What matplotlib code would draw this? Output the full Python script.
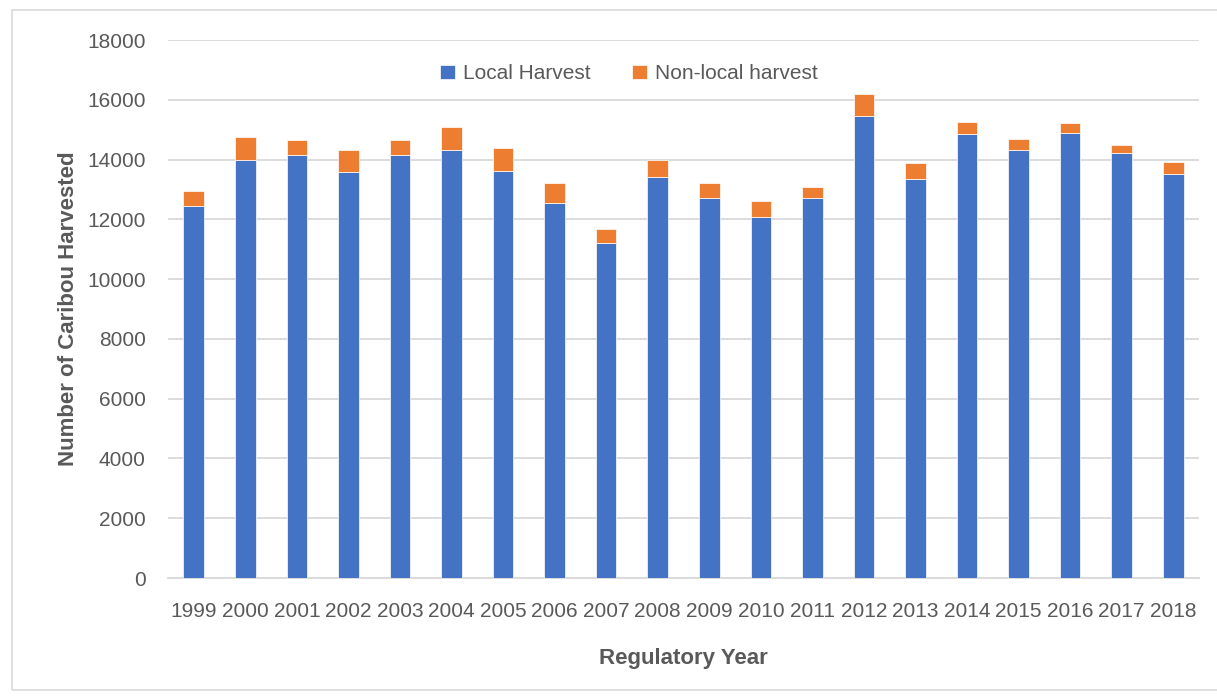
import numpy as np
import matplotlib.pyplot as plt
from matplotlib.patches import Rectangle

years = [str(y) for y in range(1999, 2019)]
local = [12430, 13970, 14140, 13570, 14140, 14310, 13610, 12530, 11210, 13430,
         12700, 12080, 12700, 15470, 13350, 14850, 14310, 14900, 14230, 13520]
total = [12950, 14740, 14650, 14310, 14650, 15090, 14400, 13210, 11690, 13990,
         13210, 12600, 13080, 16210, 13870, 15240, 14700, 15210, 14480, 13920]
nonlocal_ = [t - l for t, l in zip(total, local)]

plt.rcParams['font.family'] = ['Liberation Sans', 'DejaVu Sans']
grey = '#595959'

fig = plt.figure(figsize=(12.17, 6.98), dpi=100)
ax = fig.add_axes([168/1217, 1 - 578/698, (1199 - 168)/1217, (578 - 40)/698])

# chart border
fig.patches.append(Rectangle((12/1217, 1 - 690/698), 1, 680/698, transform=fig.transFigure,
                             fill=False, edgecolor='#D9D9D9', linewidth=1.2))

x = np.arange(len(years))
ax.bar(x, local, width=0.4, color='#4472C4', edgecolor='white', linewidth=0.5,
       label='Local Harvest', zorder=3)
ax.bar(x, nonlocal_, bottom=local, width=0.4, color='#ED7D31', edgecolor='white',
       linewidth=0.5, label='Non-local harvest', zorder=3)

ax.set_xlim(-0.5, len(years) - 0.5)
ax.set_ylim(0, 18000)
ax.set_yticks(range(0, 18001, 2000))
ax.set_xticks(x)
ax.set_xticklabels(years)
ax.grid(axis='y', color='#D9D9D9', linewidth=1.3, zorder=0)
for s in ['top', 'right', 'left']:
    ax.spines[s].set_visible(False)
ax.spines['bottom'].set_color('#D9D9D9')
ax.spines['bottom'].set_linewidth(1.3)
ax.tick_params(axis='both', length=0, labelsize=15, colors=grey)
ax.tick_params(axis='y', pad=16)
ax.tick_params(axis='x', pad=17)

ax.set_ylabel('Number of Caribou Harvested', fontsize=16, fontweight='bold',
              color=grey, labelpad=6)
ax.set_xlabel('Regulatory Year', fontsize=16, fontweight='bold', color=grey, labelpad=20)

leg = ax.legend(loc='upper center', bbox_to_anchor=(0.447, 0.99), ncol=2, frameon=False,
                fontsize=15, handlelength=0.7, handleheight=0.7, columnspacing=2.0,
                handletextpad=0.4)
for t in leg.get_texts():
    t.set_color(grey)

fig.savefig('out.png', dpi=100)
